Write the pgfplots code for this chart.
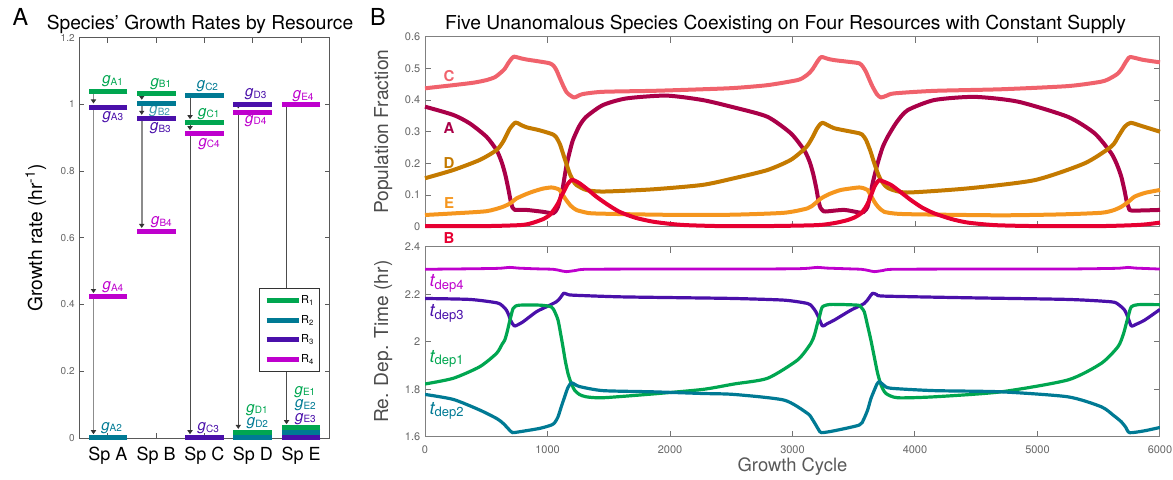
\documentclass[border=0pt]{standalone}
\usepackage{fontspec}
\setmainfont{TeX Gyre Heros}
\usepackage{pgfplots}
\pgfplotsset{compat=1.18}
\usetikzlibrary{arrows.meta}

% resource colours
\definecolor{rone}{RGB}{0,166,80}
\definecolor{rtwo}{RGB}{0,122,148}
\definecolor{rthree}{RGB}{74,16,170}
\definecolor{rfour}{RGB}{190,0,205}
% species colours
\definecolor{spA}{RGB}{170,0,72}
\definecolor{spB}{RGB}{230,0,50}
\definecolor{spC}{RGB}{240,98,108}
\definecolor{spD}{RGB}{196,122,0}
\definecolor{spE}{RGB}{245,150,30}

% growth-rate and depletion-time labels
\newcommand\glab[1]{{\fontsize{7.5}{8}\selectfont\itshape g}{\fontsize{5}{5}\selectfont\raisebox{-0.8pt}{#1}}}
\newcommand\tlab[1]{{\fontsize{9}{9}\selectfont\itshape t}{\fontsize{6.5}{6.5}\selectfont\raisebox{-1.2pt}{dep#1}}}

\pgfplotsset{
  frame/.style={
    scale only axis,
    tick align=inside,
    axis line style={draw=black!65, line width=0.5pt},
    tick style={draw=black!65, line width=0.5pt},
    /pgf/number format/assume math mode=true,
  },
}

\begin{document}
\begin{tikzpicture}
\useasboundingbox (0,0) rectangle (586.5pt,239.5pt);

%% ---------------- Panel A: growth rates by resource ----------------
\begin{axis}[frame,
  at={(39.5pt,20.5pt)}, anchor=south west,
  width=125.5pt, height=200.25pt,
  xmin=0.4, xmax=5.6, ymin=0, ymax=1.2,
  xtick={1,2,3,4,5}, xticklabels={Sp A,Sp B,Sp C,Sp D,Sp E},
  ytick={0,0.2,0.4,0.6,0.8,1,1.2}, yticklabels={0,0.2,0.4,0.6,0.8,1,1.2},
  major tick length=2.5pt,
  xticklabel style={font=\fontsize{9}{10}\selectfont, anchor=base, yshift=-11pt, inner sep=0pt},
  yticklabel style={font=\fontsize{5}{6}\selectfont, text=black!60, anchor=east, inner sep=0pt, xshift=-2pt},
  ylabel={Growth rate (hr\textsuperscript{-1})},
  ylabel style={at={(axis description cs:-0.172,0.5)}, anchor=center, font=\fontsize{9.6}{10}\selectfont},
  clip=false,
  legend cell align=left,
  legend image code/.code={\draw[#1] (0pt,0pt) -- (16pt,0pt);},
  legend style={at={(axis description cs:0.96,0.374)}, anchor=north east,
    draw=black!80, line width=0.6pt, fill=white,
    font=\fontsize{5.5}{6}\selectfont,
    inner xsep=2.5pt, inner ysep=3pt, row sep=3.75pt,
    nodes={inner sep=0pt, text height=4.5pt, text depth=1.5pt},
    /tikz/every even column/.append style={column sep=2pt}},
]
% preference arrows, top rate down to each lower one
\tikzset{
  arrA/.style={draw=black!45, line width=0.9pt, shorten >=1.9pt,
    -{Triangle[width=2.6pt,length=2pt,color=black!80]}},
  arrC/.style={draw=black!70, line width=0.5pt, shorten >=1.9pt,
    -{Triangle[width=2.6pt,length=2pt,color=black!80]}},
}
\draw[arrA] (axis cs:0.7,1.039) -- (axis cs:0.7,0.991);
\draw[arrA] (axis cs:0.7,0.991) -- (axis cs:0.7,0.423);
\draw[arrA] (axis cs:0.7,0.423) -- (axis cs:0.7,0.0);
\draw[arrA] (axis cs:1.7,1.031) -- (axis cs:1.7,1.002);
\draw[arrA] (axis cs:1.7,1.002) -- (axis cs:1.7,0.957);
\draw[arrA] (axis cs:1.7,0.957) -- (axis cs:1.7,0.618);
\draw[arrC] (axis cs:2.7,1.025) -- (axis cs:2.7,0.944);
\draw[arrC] (axis cs:2.7,0.944) -- (axis cs:2.7,0.911);
\draw[arrC] (axis cs:2.7,0.911) -- (axis cs:2.7,0.0);
\draw[arrC] (axis cs:3.7,1.0) -- (axis cs:3.7,0.976);
\draw[arrC] (axis cs:3.7,0.976) -- (axis cs:3.7,0.016);
\draw[arrC] (axis cs:4.7,0.999) -- (axis cs:4.7,0.030);

% rate labels
\tikzset{every node/.append style={inner sep=0pt}}
\node[text=rone]   at (axis cs:1.098,1.069) {\glab{A1}};
\node[text=rthree] at (axis cs:1.100,0.963) {\glab{A3}};
\node[text=rfour]  at (axis cs:1.104,0.451) {\glab{A4}};
\node[text=rtwo]   at (axis cs:1.077,0.031) {\glab{A2}};
\node[text=rone]   at (axis cs:2.095,1.061) {\glab{B1}};
\node[text=rtwo!75]at (axis cs:2.072,0.979) {\glab{B2}};
\node[text=rthree] at (axis cs:2.088,0.928) {\glab{B3}};
\node[text=rfour]  at (axis cs:2.109,0.646) {\glab{B4}};
\node[text=rtwo]   at (axis cs:3.062,1.054) {\glab{C2}};
\node[text=rone]   at (axis cs:3.089,0.971) {\glab{C1}};
\node[text=rfour]  at (axis cs:3.097,0.881) {\glab{C4}};
\node[text=rthree] at (axis cs:3.079,0.029) {\glab{C3}};
\node[text=rthree] at (axis cs:4.063,1.030) {\glab{D3}};
\node[text=rfour]  at (axis cs:4.063,0.951) {\glab{D4}};
\node[text=rone]   at (axis cs:4.088,0.085) {\glab{D1}};
\node[text=rtwo]   at (axis cs:4.098,0.044) {\glab{D2}};
\node[text=rfour]  at (axis cs:5.045,1.024) {\glab{E4}};
\node[text=rone]   at (axis cs:5.082,0.139) {\glab{E1}};
\node[text=rtwo]   at (axis cs:5.092,0.098) {\glab{E2}};
\node[text=rthree] at (axis cs:5.092,0.058) {\glab{E3}};

% growth-rate bars, one series per resource
\pgfplotsset{bar/.style={only marks, mark=-, mark size=9.65pt, color=#1,
  mark options={solid, line width=2.5pt}, forget plot}}
\addplot[bar=rone]   coordinates {(1,1.039) (2,1.031) (3,0.944) (4,0.016) (5,0.030)};
\addplot[bar=rtwo]   coordinates {(1,0.001) (2,1.002) (3,1.025) (4,0.001) (5,0.016)};
\addplot[bar=rthree] coordinates {(1,0.991) (2,0.957) (3,0.001) (4,1.000) (5,0.002)};
\addplot[bar=rfour]  coordinates {(1,0.423) (2,0.618) (3,0.911) (4,0.976) (5,0.999)};

\addlegendimage{rone, line width=2.5pt}   \addlegendentry{R\textsubscript{1}}
\addlegendimage{rtwo, line width=2.5pt}   \addlegendentry{R\textsubscript{2}}
\addlegendimage{rthree, line width=2.5pt} \addlegendentry{R\textsubscript{3}}
\addlegendimage{rfour, line width=2.5pt}  \addlegendentry{R\textsubscript{4}}
\end{axis}

%% ---------------- Panel B (top): population fractions ----------------
\begin{axis}[frame,
  at={(212.5pt,126.15pt)}, anchor=south west,
  width=367.5pt, height=95pt,
  xmin=0, xmax=6000, ymin=0, ymax=0.6,
  xtick={0,1000,2000,3000,4000,5000,6000}, xticklabels={},
  ytick={0,0.1,0.2,0.3,0.4,0.5,0.6}, yticklabels={0,0.1,0.2,0.3,0.4,0.5,0.6},
  major tick length=3pt,
  axis line style={draw=black!50}, tick style={draw=black!55},
  yticklabel style={font=\fontsize{5.5}{6}\selectfont, text=black!60, anchor=east, inner sep=0pt, xshift=-2.2pt},
  ylabel={Population Fraction},
  ylabel style={at={(axis description cs:-0.0567,0.5)}, anchor=center, font=\fontsize{9.6}{10}\selectfont, text=black!70},
  clip=false, no marks,
  every axis plot/.append style={line width=2pt, smooth, tension=0.4, line join=round},
]
\addplot[spC] coordinates {(0,0.437)(231,0.447)(400,0.455)(502,0.463)(570,0.472)(611,0.484)(650,0.498)(679,0.516)(705,0.530)(727,0.537)(780,0.532)(828,0.528)(930,0.522)(1018,0.516)(1050,0.508)(1072,0.495)(1100,0.470)(1126,0.447)(1155,0.425)(1181,0.416)(1216,0.408)(1250,0.413)(1289,0.419)(1452,0.426)(1859,0.429)(2266,0.434)(2523,0.438)(2796,0.447)(3041,0.463)(3100,0.474)(3136,0.485)(3165,0.498)(3191,0.514)(3215,0.528)(3237,0.536)(3290,0.530)(3341,0.526)(3450,0.521)(3545,0.516)(3575,0.505)(3600,0.489)(3627,0.465)(3654,0.442)(3690,0.418)(3722,0.408)(3770,0.414)(3831,0.421)(4158,0.429)(4703,0.434)(5248,0.444)(5521,0.458)(5600,0.470)(5657,0.484)(5690,0.500)(5711,0.514)(5735,0.528)(5758,0.536)(5860,0.527)(6000,0.519)};
\addplot[spA] coordinates {(0,0.379)(231,0.353)(366,0.326)(502,0.284)(584,0.242)(625,0.205)(655,0.165)(680,0.120)(700,0.080)(715,0.060)(733,0.053)(828,0.053)(963,0.047)(1045,0.042)(1065,0.048)(1086,0.063)(1105,0.090)(1126,0.126)(1153,0.189)(1180,0.235)(1208,0.274)(1260,0.318)(1316,0.347)(1452,0.384)(1642,0.405)(1968,0.414)(2266,0.400)(2540,0.375)(2796,0.347)(2986,0.295)(3095,0.242)(3140,0.205)(3170,0.165)(3195,0.120)(3213,0.080)(3228,0.060)(3250,0.050)(3272,0.048)(3422,0.053)(3559,0.044)(3590,0.050)(3613,0.063)(3635,0.100)(3654,0.137)(3695,0.200)(3735,0.250)(3777,0.284)(3850,0.330)(3940,0.368)(4158,0.400)(4485,0.410)(4839,0.395)(5248,0.347)(5466,0.295)(5602,0.232)(5650,0.195)(5684,0.158)(5710,0.115)(5728,0.080)(5745,0.060)(5770,0.051)(6000,0.053)};
\addplot[spD] coordinates {(0,0.153)(231,0.179)(448,0.211)(584,0.242)(640,0.270)(690,0.308)(738,0.329)(780,0.322)(828,0.314)(930,0.305)(1018,0.295)(1050,0.290)(1072,0.282)(1100,0.262)(1126,0.232)(1155,0.198)(1181,0.168)(1210,0.145)(1235,0.132)(1316,0.116)(1452,0.111)(1859,0.118)(2266,0.132)(2523,0.153)(2796,0.179)(2986,0.211)(3109,0.250)(3160,0.280)(3200,0.310)(3245,0.328)(3341,0.311)(3545,0.295)(3575,0.288)(3600,0.274)(3635,0.240)(3668,0.200)(3695,0.170)(3722,0.147)(3760,0.128)(3804,0.118)(3940,0.108)(4431,0.121)(4976,0.147)(5384,0.200)(5602,0.253)(5660,0.285)(5710,0.315)(5760,0.328)(5850,0.318)(6000,0.300)};
\addplot[spE] coordinates {(0,0.037)(231,0.042)(502,0.049)(638,0.063)(700,0.075)(746,0.089)(820,0.102)(882,0.111)(960,0.120)(1031,0.124)(1070,0.121)(1099,0.116)(1125,0.100)(1153,0.084)(1190,0.066)(1235,0.053)(1300,0.046)(1371,0.042)(1723,0.039)(2130,0.037)(2523,0.038)(2932,0.044)(3123,0.058)(3180,0.072)(3232,0.089)(3300,0.103)(3395,0.116)(3545,0.124)(3590,0.120)(3613,0.116)(3640,0.098)(3668,0.079)(3700,0.062)(3749,0.047)(3850,0.041)(4022,0.039)(4703,0.036)(5200,0.039)(5521,0.044)(5620,0.052)(5684,0.063)(5740,0.078)(5793,0.095)(5880,0.107)(6000,0.116)};
\addplot[spB] coordinates {(0,0.002)(502,0.002)(774,0.005)(850,0.009)(909,0.016)(970,0.025)(1018,0.037)(1055,0.055)(1086,0.074)(1115,0.098)(1140,0.116)(1165,0.135)(1194,0.147)(1220,0.146)(1262,0.137)(1330,0.117)(1398,0.095)(1490,0.070)(1588,0.047)(1720,0.028)(1859,0.016)(2000,0.009)(2130,0.005)(2400,0.002)(2800,0.002)(3204,0.005)(3350,0.012)(3450,0.021)(3510,0.030)(3559,0.042)(3595,0.060)(3627,0.084)(3650,0.108)(3668,0.126)(3690,0.140)(3709,0.147)(3740,0.143)(3804,0.132)(3880,0.110)(3967,0.084)(4060,0.060)(4158,0.042)(4300,0.024)(4431,0.013)(4650,0.005)(4976,0.002)(5521,0.002)(5793,0.005)(5900,0.008)(6000,0.013)};
\tikzset{every node/.append style={font=\bfseries\fontsize{7.5}{8}\selectfont}}
\node[text=spC] at (axis cs:197,0.475) {C};
\node[text=spA] at (axis cs:197,0.311) {A};
\node[text=spD] at (axis cs:197,0.200) {D};
\node[text=spE] at (axis cs:197,0.076) {E};
\node[text=spB] at (axis cs:197,-0.036) {B};
\end{axis}

%% ---------------- Panel B (bottom): resource depletion times ----------------
\begin{axis}[frame,
  at={(212.5pt,21.15pt)}, anchor=south west,
  width=367.5pt, height=95pt,
  xmin=0, xmax=6000, ymin=1.6, ymax=2.4,
  xtick={0,1000,2000,3000,4000,5000,6000}, xticklabels={0,1000,2000,3000,4000,5000,6000},
  ytick={1.6,1.8,2,2.2,2.4}, yticklabels={1.6,1.8,2,2.2,2.4},
  major tick length=3pt,
  axis line style={draw=black!50}, tick style={draw=black!55},
  xticklabel style={font=\fontsize{5.5}{6}\selectfont, text=black!60, anchor=base, inner sep=0pt, yshift=-8.3pt},
  yticklabel style={font=\fontsize{5.5}{6}\selectfont, text=black!60, anchor=east, inner sep=0pt, xshift=-2.2pt},
  ylabel={Re. Dep. Time (hr)},
  ylabel style={at={(axis description cs:-0.0567,0.5)}, anchor=center, font=\fontsize{9.6}{10}\selectfont, text=black!70},
  xlabel={Growth Cycle},
  xlabel style={at={(axis description cs:0.5,-0.1805)}, anchor=base, font=\fontsize{9.2}{10}\selectfont, text=black!65},
  no marks,
  every axis plot/.append style={line width=1.6pt, smooth, tension=0.4, line join=round},
]
\addplot[rfour, line width=1.4pt] coordinates {(0,2.305)(366,2.307)(600,2.309)(692,2.313)(760,2.310)(900,2.307)(1045,2.305)(1100,2.300)(1153,2.295)(1230,2.300)(1316,2.305)(1859,2.306)(2523,2.306)(3000,2.307)(3120,2.309)(3204,2.313)(3280,2.310)(3450,2.307)(3560,2.305)(3620,2.300)(3668,2.295)(3740,2.300)(3830,2.305)(4500,2.306)(5200,2.306)(5640,2.309)(5739,2.313)(5800,2.310)(6000,2.306)};
\addplot[rthree] coordinates {(0,2.182)(366,2.178)(584,2.164)(630,2.152)(665,2.133)(685,2.110)(698,2.091)(715,2.075)(733,2.066)(760,2.072)(801,2.084)(909,2.126)(991,2.147)(1072,2.168)(1105,2.185)(1132,2.204)(1160,2.200)(1208,2.196)(1588,2.189)(2130,2.185)(2523,2.182)(2932,2.175)(3123,2.161)(3160,2.148)(3191,2.126)(3215,2.100)(3245,2.066)(3280,2.075)(3341,2.091)(3477,2.133)(3586,2.161)(3625,2.185)(3654,2.204)(3690,2.198)(3749,2.192)(4431,2.185)(5248,2.178)(5602,2.168)(5660,2.157)(5711,2.133)(5740,2.100)(5766,2.066)(5800,2.072)(5875,2.091)(6000,2.136)};
\addplot[rone] coordinates {(0,1.822)(231,1.846)(448,1.895)(584,1.951)(630,1.990)(651,2.007)(670,2.040)(687,2.077)(703,2.110)(719,2.140)(740,2.150)(774,2.154)(936,2.154)(1031,2.147)(1060,2.125)(1086,2.091)(1105,2.040)(1126,1.979)(1145,1.920)(1167,1.867)(1190,1.830)(1221,1.796)(1260,1.778)(1316,1.768)(1452,1.764)(1859,1.780)(2266,1.799)(2523,1.822)(2796,1.846)(3041,1.923)(3150,1.993)(3180,2.030)(3204,2.077)(3225,2.115)(3245,2.147)(3313,2.157)(3531,2.154)(3560,2.145)(3586,2.126)(3612,2.070)(3640,2.007)(3668,1.935)(3695,1.867)(3725,1.815)(3763,1.782)(3858,1.764)(4158,1.768)(4703,1.789)(5248,1.839)(5521,1.909)(5657,1.979)(5700,2.030)(5725,2.077)(5745,2.115)(5766,2.147)(5820,2.156)(6000,2.156)};
\addplot[rtwo] coordinates {(0,1.778)(231,1.757)(448,1.712)(584,1.677)(630,1.660)(665,1.642)(695,1.625)(714,1.617)(774,1.621)(936,1.635)(1031,1.649)(1060,1.660)(1086,1.684)(1115,1.730)(1140,1.768)(1165,1.805)(1194,1.827)(1225,1.820)(1262,1.811)(1452,1.794)(1859,1.789)(2266,1.782)(2523,1.778)(2932,1.754)(3123,1.698)(3160,1.675)(3191,1.649)(3215,1.628)(3237,1.617)(3341,1.625)(3545,1.649)(3580,1.672)(3613,1.712)(3640,1.760)(3668,1.796)(3690,1.822)(3709,1.832)(3750,1.815)(3804,1.804)(4158,1.794)(4703,1.789)(5248,1.768)(5521,1.726)(5620,1.690)(5684,1.663)(5720,1.640)(5752,1.617)(5875,1.625)(6000,1.639)};
\tikzset{every node/.append style={inner sep=0pt, anchor=west}}
\node[text=rfour]  at (axis cs:35,2.246) {\tlab{4}};
\node[text=rthree] at (axis cs:35,2.120) {\tlab{3}};
\node[text=rone]   at (axis cs:35,1.927) {\tlab{1}};
\node[text=rtwo]   at (axis cs:35,1.709) {\tlab{2}};
\end{axis}

%% titles and panel letters
\node[anchor=base, font=\fontsize{9.6}{10}\selectfont] at (100pt,224.9pt) {Species’ Growth Rates by Resource};
\node[anchor=base, font=\fontsize{9.6}{10}\selectfont] at (392.75pt,224.9pt) {Five Unanomalous Species Coexisting on Four Resources with Constant Supply};
\node[anchor=base, font=\fontsize{11.7}{12}\selectfont] at (10.25pt,227pt) {A};
\node[anchor=base, font=\fontsize{11.7}{12}\selectfont] at (189pt,226.7pt) {B};
\end{tikzpicture}
\end{document}
